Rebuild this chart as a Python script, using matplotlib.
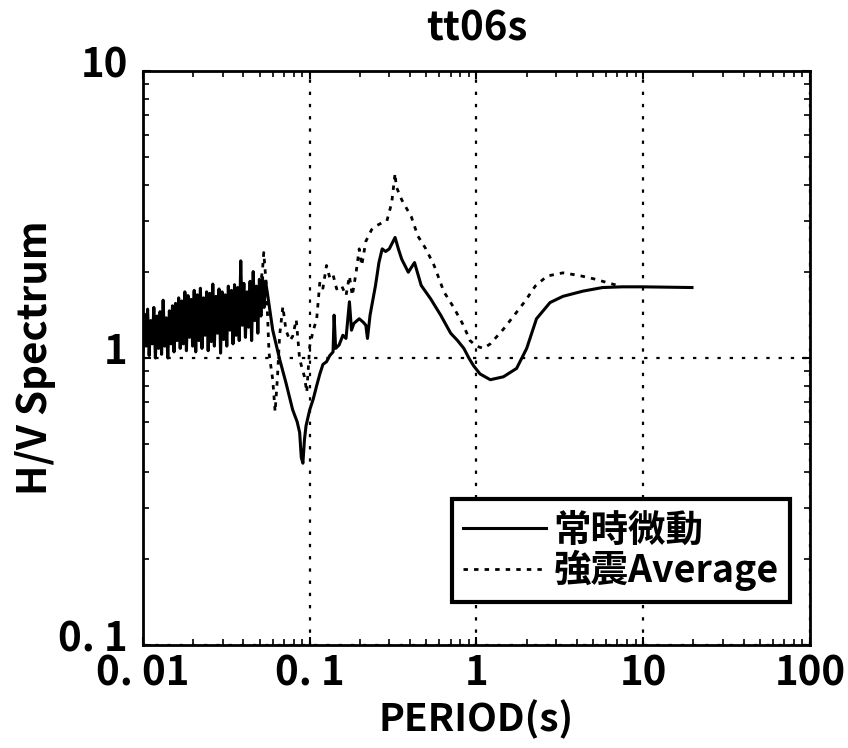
import numpy as np
import matplotlib
matplotlib.use('Agg')
import matplotlib.pyplot as plt
import matplotlib.transforms as mtransforms
from matplotlib.ticker import FixedLocator, LogLocator, NullFormatter

plt.rcParams['font.family'] = ['Noto Sans CJK JP', 'DejaVu Sans']
plt.rcParams['font.weight'] = 'bold'

# 常時微動 (microtremor) H/V
period_mt = [0.01000, 0.01022, 0.01044, 0.01066, 0.01089, 0.01113, 0.01137, 0.01162, 0.01187, 0.01213,
             0.01239, 0.01266, 0.01293, 0.01321, 0.01350, 0.01379, 0.01409, 0.01440, 0.01471, 0.01503,
             0.01535, 0.01568, 0.01602, 0.01637, 0.01672, 0.01709, 0.01746, 0.01783, 0.01822, 0.01862,
             0.01902, 0.01943, 0.01985, 0.02028, 0.02072, 0.02117, 0.02163, 0.02210, 0.02258, 0.02307,
             0.02357, 0.02408, 0.02460, 0.02513, 0.02568, 0.02623, 0.02680, 0.02738, 0.02797, 0.02858,
             0.02920, 0.02983, 0.03048, 0.03114, 0.03181, 0.03250, 0.03321, 0.03393, 0.03466, 0.03541,
             0.03618, 0.03696, 0.03777, 0.03858, 0.03942, 0.04027, 0.04115, 0.04204, 0.04295, 0.04388,
             0.04483, 0.04580, 0.04680, 0.04781, 0.04885, 0.04990, 0.05098, 0.05209, 0.05322, 0.05437,
             0.056, 0.060, 0.066, 0.072, 0.079, 0.084, 0.087, 0.089, 0.091, 0.093,
             0.095, 0.100, 0.105, 0.110, 0.115, 0.120, 0.126, 0.132, 0.138, 0.140,
             0.143, 0.150, 0.158, 0.165, 0.173, 0.178, 0.184, 0.198, 0.210, 0.217,
             0.222, 0.230, 0.248, 0.260, 0.272, 0.285, 0.300, 0.325, 0.340, 0.356,
             0.390, 0.425, 0.466, 0.530, 0.610, 0.700, 0.770, 0.840, 0.900, 0.960,
             1.05, 1.21, 1.45, 1.74, 2.00, 2.29, 2.76, 3.30, 4.35, 5.70,
             7.50, 9.80, 19.6]
hv_mt = [1.05, 1.42, 1.10, 1.48, 1.02, 1.35, 1.12, 1.50, 1.00, 1.40,
         1.08, 1.45, 1.03, 1.59, 1.10, 1.38, 1.00, 1.46, 1.12, 1.52,
         1.05, 1.55, 1.15, 1.62, 1.08, 1.58, 1.12, 1.70, 1.06, 1.65,
         1.18, 1.60, 1.10, 1.72, 1.05, 1.66, 1.15, 1.75, 1.08, 1.62,
         1.20, 1.70, 1.06, 1.68, 1.14, 1.81, 1.10, 1.64, 1.22, 1.74,
         1.04, 1.70, 1.16, 1.66, 1.10, 1.78, 1.25, 1.72, 1.12, 1.80,
         1.20, 1.76, 1.15, 2.18, 1.30, 1.82, 1.18, 1.70, 1.28, 1.85,
         1.15, 2.00, 1.35, 1.78, 1.22, 1.88, 1.40, 1.91, 1.50, 1.85,
         1.65, 1.25, 0.99, 0.82, 0.66, 0.60, 0.55, 0.45, 0.43, 0.52,
         0.58, 0.66, 0.72, 0.80, 0.88, 0.95, 0.97, 1.02, 1.05, 1.41,
         1.08, 1.11, 1.20, 1.17, 1.57, 1.25, 1.32, 1.37, 1.33, 1.30,
         1.17, 1.41, 1.79, 2.15, 2.40, 2.35, 2.40, 2.63, 2.40, 2.21,
         1.99, 2.15, 1.79, 1.61, 1.41, 1.22, 1.15, 1.08, 1.00, 0.94,
         0.88, 0.84, 0.86, 0.92, 1.08, 1.37, 1.56, 1.64, 1.71, 1.76,
         1.77, 1.77, 1.76]

# 強震 Average (strong motion)
period_eq = [0.050, 0.052, 0.053, 0.055, 0.057, 0.060, 0.062, 0.064, 0.066, 0.069,
             0.072, 0.076, 0.079, 0.083, 0.087, 0.093, 0.096, 0.100, 0.105, 0.110,
             0.115, 0.120, 0.126, 0.132, 0.138, 0.145, 0.155, 0.165, 0.173, 0.180,
             0.190, 0.198, 0.205, 0.217, 0.235, 0.248, 0.272, 0.290, 0.310, 0.325,
             0.330, 0.356, 0.407, 0.445, 0.497, 0.557, 0.638, 0.730, 0.835, 0.914,
             1.00, 1.10, 1.21, 1.45, 1.67, 1.96, 2.25, 2.65, 3.30, 4.10,
             5.00, 6.10, 7.00]
hv_eq = [1.75, 2.00, 2.33, 1.77, 1.04, 0.84, 0.65, 0.85, 1.20, 1.51,
         1.25, 1.15, 1.19, 1.36, 0.99, 0.86, 0.76, 1.10, 1.25, 1.36,
         1.84, 1.75, 2.10, 1.90, 1.95, 1.74, 1.79, 1.65, 1.93, 1.65,
         2.00, 2.40, 2.10, 2.55, 2.80, 2.88, 2.96, 3.00, 3.47, 4.40,
         3.96, 3.56, 3.10, 2.66, 2.40, 2.10, 1.70, 1.50, 1.30, 1.15,
         1.10, 1.08, 1.12, 1.26, 1.40, 1.58, 1.78, 1.93, 1.98, 1.94,
         1.89, 1.83, 1.79]

x_ticks = [0.01, 0.1, 1, 10, 100]
x_labels = ['0. 01', '0. 1', '1', '10', '100']
y_ticks = [0.1, 1, 10]
y_labels = ['0. 1', '1', '10']

fig = plt.figure(figsize=(8.48, 7.48), dpi=100)
ax = fig.add_axes([0.1686, 0.1377, 0.7866, 0.7674])

ax.plot(period_mt, hv_mt, color='black', lw=2.2, label='常時微動')
ax.plot(period_eq, hv_eq, color='black', lw=2.0, ls=(0, (1.6, 2.2)), label='強震Average')

ax.set_xscale('log')
ax.set_yscale('log')
ax.set_xlim(0.01, 100)
ax.set_ylim(0.1, 10)

ax.xaxis.set_major_locator(FixedLocator(x_ticks))
ax.set_xticklabels(x_labels)
ax.yaxis.set_major_locator(FixedLocator(y_ticks))
ax.set_yticklabels(y_labels)
ax.xaxis.set_minor_locator(LogLocator(base=10, subs=np.arange(2, 10)))
ax.yaxis.set_minor_locator(LogLocator(base=10, subs=np.arange(2, 10)))
ax.xaxis.set_minor_formatter(NullFormatter())
ax.yaxis.set_minor_formatter(NullFormatter())

ax.tick_params(which='both', direction='in', top=True, right=True, labelsize=29)
ax.tick_params(which='major', length=6, width=1.5)
ax.tick_params(which='minor', length=4, width=1.2)
ax.tick_params(axis='x', pad=6)
ax.tick_params(axis='y', pad=11)

# y labels sit a little above their ticks in the original
shift_up = mtransforms.ScaledTranslation(0, 7 / 72, fig.dpi_scale_trans)
for lab in ax.get_yticklabels():
    lab.set_transform(lab.get_transform() + shift_up)
for lab in ax.get_xticklabels() + ax.get_yticklabels():
    lab.set_fontweight('bold')

ax.grid(True, which='major', color='black', ls=(0, (1.5, 4)), lw=1.6)
for s in ax.spines.values():
    s.set_linewidth(2)

ax.set_title('tt06s', fontsize=29, fontweight='bold', pad=22)
ax.set_xlabel('PERIOD(s)', fontsize=28, fontweight='bold', labelpad=4)
ax.set_ylabel('H/V Spectrum', fontsize=29, fontweight='bold')
ax.yaxis.set_label_coords(-0.13, 0.5)

leg = ax.legend(loc='lower right', fontsize=27, handlelength=2.2, handletextpad=0.2,
                borderpad=0.3, labelspacing=0.0, borderaxespad=0, fancybox=False,
                framealpha=1, edgecolor='black', bbox_to_anchor=(0.970, 0.075))
leg.get_frame().set_linewidth(3)
for t in leg.get_texts():
    t.set_fontweight('bold')

fig.savefig('out.png', dpi=100)
